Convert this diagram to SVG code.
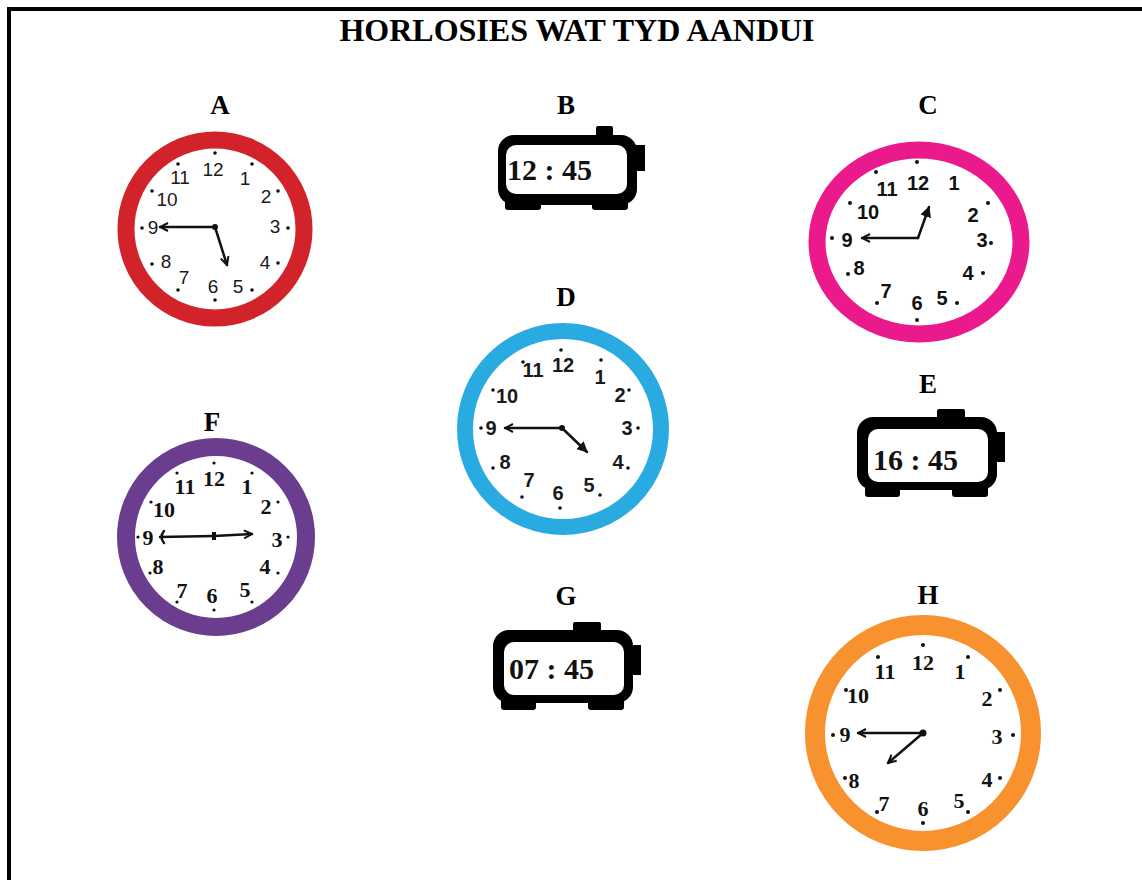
<svg xmlns="http://www.w3.org/2000/svg" width="1142" height="880" viewBox="0 0 1142 880">
<style>
.title{font-family:"Liberation Serif",serif;font-weight:bold;font-size:32px;fill:#000}
.lbl{font-family:"Liberation Serif",serif;font-weight:bold;font-size:27px;fill:#000;text-anchor:middle}
.na{font-family:"Liberation Sans",sans-serif;font-size:19px;fill:#1a1a1a;text-anchor:middle}
.nc{font-family:"Liberation Sans",sans-serif;font-weight:bold;font-size:20px;fill:#111;text-anchor:middle}
.nd{font-family:"Liberation Sans",sans-serif;font-weight:bold;font-size:20px;fill:#1a1a1a;text-anchor:middle}
.ns{font-family:"Liberation Serif",serif;font-weight:bold;font-size:22px;fill:#111;text-anchor:middle}
.dig{font-family:"Liberation Serif",serif;font-weight:bold;font-size:30px;fill:#111}
.hand{stroke:#111;stroke-width:2.5;fill:none;stroke-linecap:round;stroke-linejoin:round}
.ring{fill:#fff}
.blk{fill:#000}
</style>
<defs>
<marker id="arr" viewBox="0 0 10 10" refX="9" refY="5" markerWidth="10" markerHeight="10" markerUnits="userSpaceOnUse" orient="auto-start-reverse">
<path d="M1,1 L9,5 L1,9" fill="none" stroke="#111" stroke-width="2"/>
</marker>
<marker id="arrf" viewBox="0 0 10 10" refX="9" refY="5" markerWidth="11" markerHeight="11" markerUnits="userSpaceOnUse" orient="auto">
<path d="M0,0 L10,5 L0,10 Z" fill="#111"/>
</marker>
<g id="alarm">
<rect class="blk" x="0" y="9" width="140" height="73" rx="16"/>
<rect fill="#fff" x="11" y="21" width="120" height="53" rx="10"/>
<rect class="blk" x="80" y="1" width="28" height="12" rx="2"/>
<rect class="blk" x="138" y="24" width="10" height="30"/>
<rect class="blk" x="8" y="76" width="35" height="13" rx="3"/>
<rect class="blk" x="95" y="76" width="36" height="13" rx="3"/>
</g>
</defs>
<rect x="0" y="0" width="1142" height="880" fill="#fff"/>
<path d="M9,880 V9 H1142" fill="none" stroke="#000" stroke-width="4"/>
<text class="title" x="577" y="41" text-anchor="middle">HORLOSIES WAT TYD AANDUI</text>

<g id="clockA">
<text class="lbl" x="220" y="114">A</text>
<circle class="ring" cx="215" cy="229" r="89" stroke="#D2232A" stroke-width="17"/>
<g fill="#111">
<circle cx="215" cy="153" r="1.8"/><circle cx="178" cy="164" r="1.8"/><circle cx="252" cy="164" r="1.8"/><circle cx="152" cy="191" r="1.8"/><circle cx="278" cy="191" r="1.8"/><circle cx="142" cy="228" r="1.8"/><circle cx="288" cy="228" r="1.8"/><circle cx="152" cy="264" r="1.8"/><circle cx="278" cy="263" r="1.8"/><circle cx="178" cy="290" r="1.8"/><circle cx="252" cy="290" r="1.8"/><circle cx="215" cy="300" r="1.8"/>
</g>
<g class="na">
<text x="213" y="176">12</text><text x="180" y="184">11</text><text x="245" y="185">1</text><text x="167" y="206">10</text><text x="266" y="203">2</text><text x="275" y="233">3</text><text x="153" y="234">9</text><text x="265" y="269">4</text><text x="166" y="268">8</text><text x="184" y="284">7</text><text x="213" y="293">6</text><text x="238" y="293">5</text>
</g>
<line class="hand" x1="215" y1="227" x2="160" y2="227" marker-end="url(#arr)"/>
<line class="hand" x1="215" y1="227" x2="227" y2="265" marker-end="url(#arr)"/>
<circle cx="215" cy="227" r="3" fill="#111"/>
</g>

<g id="clockB">
<text class="lbl" x="566" y="114">B</text>
<rect class="blk" x="498" y="135" width="139" height="70" rx="16"/>
<rect fill="#fff" x="506" y="145" width="121" height="49" rx="10"/>
<rect class="blk" x="596" y="126" width="17" height="12" rx="2"/>
<rect class="blk" x="636" y="145" width="9" height="26"/>
<rect class="blk" x="505" y="198" width="36" height="12" rx="3"/>
<rect class="blk" x="592" y="198" width="36" height="12" rx="3"/>
<text class="dig" x="507" y="180" font-size="32">12 : 45</text>
</g>

<g id="clockC">
<text class="lbl" x="928" y="114">C</text>
<ellipse class="ring" cx="919" cy="242" rx="102" ry="92" stroke="#EB1A8C" stroke-width="17"/>
<g fill="#111">
<circle cx="917" cy="162" r="2"/><circle cx="876" cy="172" r="2"/><circle cx="850" cy="203" r="2"/><circle cx="988" cy="203" r="2"/><circle cx="991" cy="243" r="2"/><circle cx="832" cy="238" r="2"/><circle cx="848" cy="274" r="2"/><circle cx="983" cy="273" r="2"/><circle cx="877" cy="303" r="2"/><circle cx="957" cy="303" r="2"/><circle cx="917" cy="320" r="2"/>
</g>
<g class="nc">
<text x="918" y="190">12</text><text x="887" y="196">11</text><text x="954" y="190">1</text><text x="868" y="219">10</text><text x="973" y="222">2</text><text x="982" y="247">3</text><text x="847" y="247">9</text><text x="968" y="280">4</text><text x="859" y="275">8</text><text x="886" y="298">7</text><text x="917" y="310">6</text><text x="942" y="305">5</text>
</g>
<polyline class="hand" points="918,238 929,207" marker-end="url(#arrf)"/>
<polyline class="hand" points="918,238 862,238" marker-end="url(#arr)"/>
</g>

<g id="clockD">
<text class="lbl" x="566" y="306">D</text>
<circle class="ring" cx="563" cy="429" r="98" stroke="#29ABE2" stroke-width="16"/>
<g fill="#111">
<circle cx="561" cy="350" r="1.8"/><circle cx="523" cy="362" r="1.8"/><circle cx="601" cy="360" r="1.8"/><circle cx="493" cy="390" r="1.8"/><circle cx="629" cy="390" r="1.8"/><circle cx="481" cy="428" r="1.8"/><circle cx="638" cy="428" r="1.8"/><circle cx="493" cy="468" r="1.8"/><circle cx="628" cy="468" r="1.8"/><circle cx="522" cy="497" r="1.8"/><circle cx="600" cy="495" r="1.8"/><circle cx="560" cy="508" r="1.8"/>
</g>
<g class="nd">
<text x="563" y="372">12</text><text x="533" y="377">11</text><text x="600" y="384">1</text><text x="507" y="403">10</text><text x="620" y="402">2</text><text x="627" y="435">3</text><text x="491" y="435">9</text><text x="618" y="469">4</text><text x="505" y="469">8</text><text x="529" y="487">7</text><text x="558" y="500">6</text><text x="589" y="492">5</text>
</g>
<line class="hand" x1="562" y1="428" x2="505" y2="428" marker-end="url(#arr)"/>
<line class="hand" x1="562" y1="428" x2="587" y2="452" marker-end="url(#arrf)"/>
<circle cx="562" cy="428" r="3" fill="#111"/>
</g>

<g id="clockE">
<text class="lbl" x="928" y="393">E</text>
<use href="#alarm" x="857" y="408"/>
<text class="dig" x="873" y="470">16 : 45</text>
</g>

<g id="clockF">
<text class="lbl" x="212" y="431">F</text>
<circle class="ring" cx="216" cy="537" r="90" stroke="#6A3D8E" stroke-width="18"/>
<g fill="#111">
<circle cx="214" cy="463" r="1.6"/><circle cx="177" cy="473" r="1.6"/><circle cx="252" cy="473" r="1.6"/><circle cx="151" cy="502" r="1.6"/><circle cx="278" cy="502" r="1.6"/><circle cx="138" cy="537" r="1.6"/><circle cx="288" cy="537" r="1.6"/><circle cx="150" cy="573" r="1.6"/><circle cx="278" cy="573" r="1.6"/><circle cx="177" cy="602" r="1.6"/><circle cx="252" cy="602" r="1.6"/><circle cx="214" cy="610" r="1.6"/>
</g>
<g class="ns">
<text x="214" y="486">12</text><text x="185" y="494">11</text><text x="247" y="494">1</text><text x="164" y="517">10</text><text x="266" y="514">2</text><text x="277" y="547">3</text><text x="148" y="545">9</text><text x="265" y="574">4</text><text x="158" y="574">8</text><text x="182" y="598">7</text><text x="212" y="603">6</text><text x="245" y="597">5</text>
</g>
<line class="hand" x1="214" y1="536" x2="252" y2="534" marker-end="url(#arr)"/>
<line class="hand" x1="214" y1="536" x2="160" y2="537"/>
<path class="hand" d="M164,531 Q159,537 164,543"/>
<rect x="212" y="532" width="4" height="8" fill="#111"/>
</g>

<g id="clockG">
<text class="lbl" x="566" y="605">G</text>
<use href="#alarm" x="493" y="621"/>
<text class="dig" x="509" y="679">07 : 45</text>
</g>

<g id="clockH">
<text class="lbl" x="928" y="604">H</text>
<circle class="ring" cx="923" cy="733" r="108" stroke="#F7922E" stroke-width="20"/>
<g fill="#111">
<circle cx="923" cy="645" r="2"/><circle cx="878" cy="657" r="2"/><circle cx="968" cy="657" r="2"/><circle cx="846" cy="690" r="2"/><circle cx="1000" cy="690" r="2"/><circle cx="833" cy="735" r="2"/><circle cx="1013" cy="735" r="2"/><circle cx="845" cy="778" r="2"/><circle cx="1000" cy="778" r="2"/><circle cx="877" cy="812" r="2"/><circle cx="968" cy="812" r="2"/><circle cx="923" cy="823" r="2"/>
</g>
<g class="ns">
<text x="923" y="670">12</text><text x="885" y="679">11</text><text x="960" y="679">1</text><text x="858" y="703">10</text><text x="987" y="706">2</text><text x="997" y="744">3</text><text x="845" y="742">9</text><text x="987" y="787">4</text><text x="854" y="788">8</text><text x="884" y="811">7</text><text x="923" y="816">6</text><text x="959" y="808">5</text>
</g>
<line class="hand" x1="923" y1="733" x2="858" y2="733" marker-end="url(#arr)"/>
<line class="hand" x1="923" y1="733" x2="888" y2="763" marker-end="url(#arr)"/>
<circle cx="923" cy="733" r="3.5" fill="#111"/>
</g>
</svg>
